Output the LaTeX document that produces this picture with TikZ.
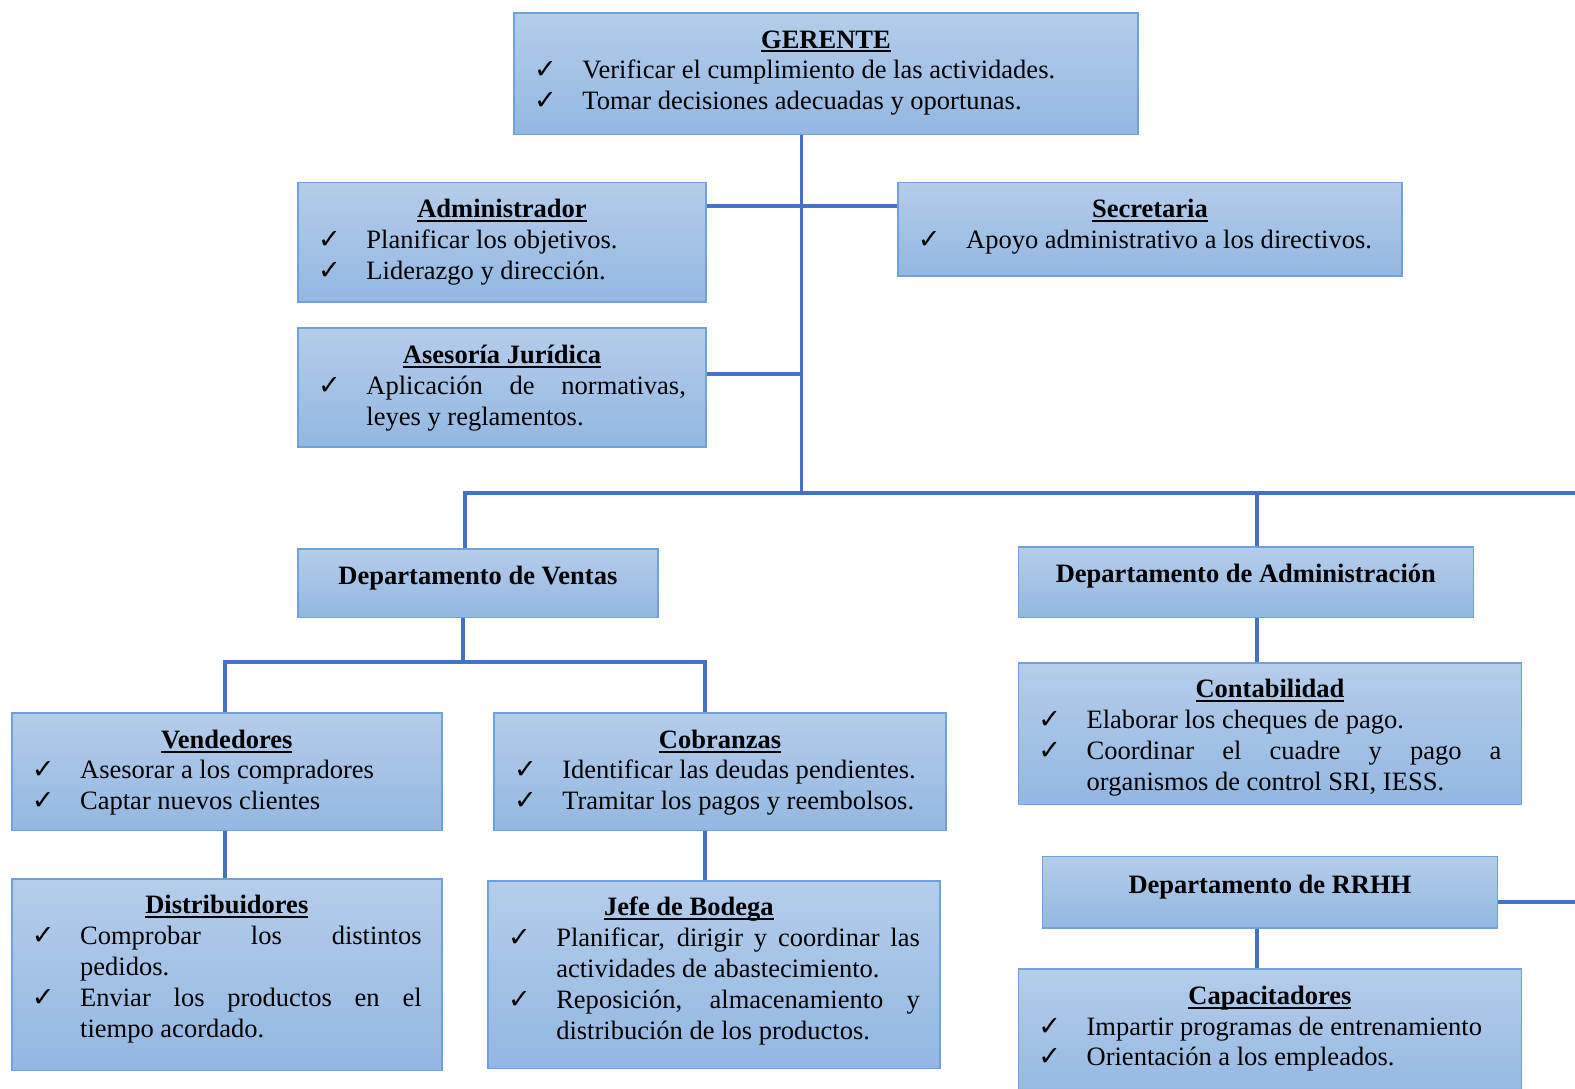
\documentclass[tikz,border=0pt]{standalone}
\usepackage{fontspec}
\setmainfont{Liberation Serif}
\newfontfamily\chkfont{DejaVu Sans}
\usetikzlibrary{calc,backgrounds}

\definecolor{boxtop}{HTML}{B4CDEA}
\definecolor{boxbot}{HTML}{93B7E2}
\definecolor{boxline}{HTML}{6FA2DC}
\definecolor{linkblue}{HTML}{4472C4}

% text with a fixed-depth underline
\newcommand\headul[1]{\setbox0=\hbox{#1}\rlap{\rule[-2.2pt]{\wd0}{1pt}}\box0}
% underlined bold heading of a box (optional horizontal shift)
\newcommand\boxtitle[2][0pt]{{\centering\rule{0pt}{17.5pt}\hspace*{#1}\headul{\textbf{#2}}\par}}
% plain bold heading of a department box
\newcommand\depttitle[2][17.5pt]{{\centering\rule{0pt}{#1}\textbf{#2}\par}}
% one ticked item, justified, with hanging text
\newcommand\tick[1]{\noindent\llap{\makebox[24pt][l]{\chkfont\fontsize{13.5}{13.5}\selectfont ✓}}#1\par}
% contents of a box: width, height, body
\newcommand\orgtext[3]{\parbox[c][#2][t]{#1}{\fontsize{13.2}{15.35}\selectfont
  \leftskip=34pt\rightskip=10pt\parindent=0pt\parskip=0pt
  \hyphenpenalty=10000\exhyphenpenalty=10000\emergencystretch=0pt #3}}

\tikzset{
  orgbox/.style={rectangle, draw=boxline, line width=0.8pt, top color=boxtop,
    bottom color=boxbot, inner sep=0pt, anchor=north west},
  link/.style={draw=linkblue, line width=1.9pt},
}

\begin{document}
\begin{tikzpicture}[x=0.5pt, y=-0.5pt]
\useasboundingbox (0,0) rectangle (1568,1084);
\clip (0,0) rectangle (1568,1084);

% top management
\node[orgbox] (ger) at (511,12) {\orgtext{310.5pt}{60.5pt}{%
  \boxtitle{GERENTE}
  \tick{Verificar el cumplimiento de las actividades.}
  \tick{Tomar decisiones adecuadas y oportunas.}}};

\node[orgbox] (adm) at (296,181) {\orgtext{203pt}{59.5pt}{%
  \boxtitle{Administrador}
  \tick{Planificar los objetivos.}
  \tick{Liderazgo y dirección.}}};

\node[orgbox] (sec) at (893,181) {\orgtext{251pt}{46.5pt}{%
  \boxtitle{Secretaria}
  \tick{Apoyo administrativo a los directivos.}}};

\node[orgbox] (ase) at (296,326) {\orgtext{203pt}{59pt}{%
  \boxtitle{Asesoría Jurídica}
  \tick{Aplicación de normativas,\linebreak leyes y reglamentos.}}};

% departments
\node[orgbox] (ven) at (296,546) {\orgtext{179pt}{34pt}{%
  \depttitle{Departamento de Ventas}}};

\node[orgbox] (dad) at (1013,544) {\orgtext{226.5pt}{35pt}{%
  \depttitle{Departamento de Administración}}};

\node[orgbox] (rrh) at (1037,852) {\orgtext{226.5pt}{35.5pt}{%
  \depttitle[18.5pt]{Departamento de RRHH}}};

% sales
\node[orgbox] (vend) at (11,709) {\orgtext{214pt}{58.5pt}{%
  \boxtitle{Vendedores}
  \tick{Asesorar a los compradores}
  \tick{Captar nuevos clientes}}};

\node[orgbox] (cob) at (491,709) {\orgtext{225pt}{58.5pt}{%
  \boxtitle{Cobranzas}
  \tick{Identificar las deudas pendientes.}
  \tick{Tramitar los pagos y reembolsos.}}};

\node[orgbox] (dis) at (11,874) {\orgtext{214pt}{95.5pt}{%
  \boxtitle{Distribuidores}
  \tick{Comprobar los distintos\linebreak pedidos.}
  \tick{Enviar los productos en el\linebreak tiempo acordado.}}};

\node[orgbox] (jef) at (485,876) {\orgtext{225pt}{93.5pt}{%
  \boxtitle[-25pt]{Jefe de Bodega}
  \tick{Planificar, dirigir y coordinar las\linebreak actividades de abastecimiento.}
  \tick{Reposición, almacenamiento y\linebreak distribución de los productos.}}};

% administration and human resources
\node[orgbox] (con) at (1013,659) {\orgtext{250.5pt}{70.5pt}{%
  \boxtitle{Contabilidad}
  \tick{Elaborar los cheques de pago.}
  \tick{Coordinar el cuadre y pago a\linebreak organismos de control SRI, IESS.}}};

\node[orgbox] (cap) at (1013,964) {\orgtext{250.5pt}{66pt}{%
  \boxtitle{Capacitadores}
  \tick{Impartir programas de entrenamiento}
  \tick{Orientación a los empleados.}}};

% connectors
\coordinate (trunk) at (798,491);
\coordinate (busL) at (463,491);
\coordinate (busA) at (1251,491);
\coordinate (busR) at (1568,491);
\coordinate (vb) at (461,659);
\coordinate (vbL) at (224,659);
\coordinate (vbR) at (702,659);
\coordinate (edgeR) at (1568,897);
\coordinate (admLink) at ($(adm.north east)!.2!(adm.south east)$);
\coordinate (aseLink) at ($(ase.north east)!.39!(ase.south east)$);
\coordinate (rrhLink) at ($(rrh.north east)!.63!(rrh.south east)$);

\begin{scope}[on background layer]
  \draw[link] (ger.south -| trunk) -- (trunk);
  \draw[link] (admLink) -- (admLink -| sec.west);
  \draw[link] (aseLink) -- (aseLink -| trunk);
  \draw[link] (busL |- ven.north) -- (busL) -- (busR);
  \draw[link] (busA) -- (busA |- dad.north);
  \draw[link] (vb |- ven.south) -- (vb);
  \draw[link] (vbL |- vend.north) -- (vbL) -- (vbR) -- (vbR |- cob.north);
  \draw[link] (vend.south -| vbL) -- (dis.north -| vbL);
  \draw[link] (cob.south -| vbR) -- (jef.north -| vbR);
  \draw[link] (dad.south -| busA) -- (con.north -| busA);
  \draw[link] (rrh.south -| busA) -- (cap.north -| busA);
  \draw[link] (rrhLink) -- (rrhLink -| edgeR);
\end{scope}
\end{tikzpicture}
\end{document}
